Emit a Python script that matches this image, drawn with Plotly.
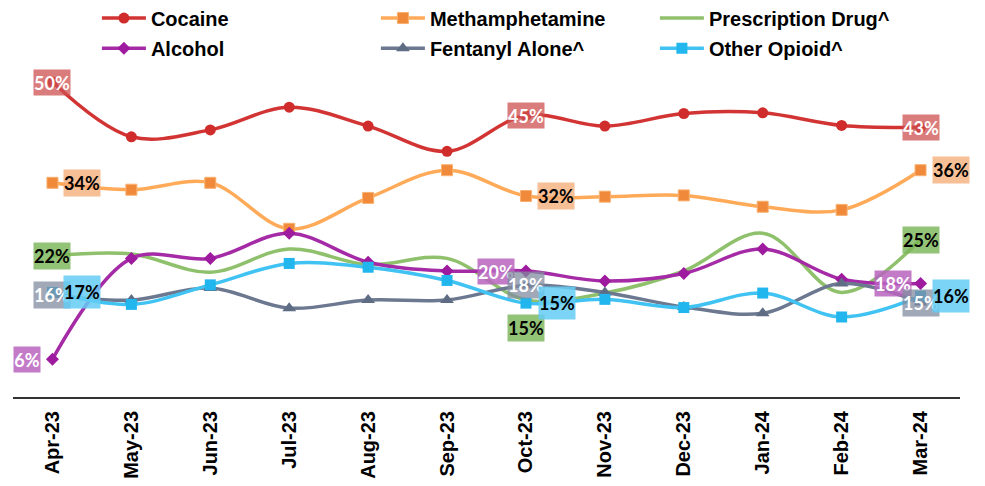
import plotly.graph_objects as go

months = ["Apr-23", "May-23", "Jun-23", "Jul-23", "Aug-23", "Sep-23",
          "Oct-23", "Nov-23", "Dec-23", "Jan-24", "Feb-24", "Mar-24"]

cocaine = [50, 41.3, 42.4, 46, 43, 39, 44.7, 43, 45, 45.1, 43.1, 42.8]
meth = [34, 32.9, 34, 26.7, 31.6, 36, 31.9, 31.8, 32, 30.2, 29.7, 36]
prescription = [22.4, 22.7, 19.8, 23.5, 21, 22, 15.4, 16.5, 20, 26, 16.6, 25]
alcohol = [6, 22, 22, 26, 21.4, 20, 20, 18.4, 19.6, 23.5, 18.7, 18]
fentanyl = [16.2, 15.4, 17.3, 14.1, 15.4, 15.4, 17.7, 16.6, 14.3, 13.3, 18, 15]
other_opioid = [16.6, 14.7, 17.8, 21.2, 20.6, 18.5, 14.9, 15.5, 14.2, 16.5, 12.7, 16]

label_idx = [0, 6, 11]

series = [
    ("Cocaine", cocaine, "#D23434", dict(symbol="circle", size=11, color="#D02C2C"),
     "rgba(205,80,80,0.75)", "white", [(0, 0), (0, 0), (0, 0)], 25, "legend"),
    ("Methamphetamine", meth, "#FFAA58", dict(symbol="square", size=11, color="#F08A3A",
                                               line=dict(color="#F8B070", width=1)),
     "rgba(244,170,115,0.75)", "black", [(30, 0), (30, 0), (30, 0)], 26, "legend"),
    ("Prescription Drug^", prescription, "#8FC06C", None,
     "rgba(120,180,85,0.8)", "black", [(0, 0), (0, -28), (0, 0)], 26, "legend"),
    ("Alcohol", alcohol, "#A52AA5", dict(symbol="diamond", size=10, color="#9E1A9E"),
     "rgba(185,100,190,0.85)", "white", [(-25, 0), (-30, 0), (-28, 0)], 25, "legend2"),
    ("Fentanyl Alone^", fentanyl, "#6B7890", dict(symbol="triangle-up", size=12, color="#5E6C84"),
     "rgba(130,140,160,0.75)", "white", [(0, 0), (0, 0), (0, 0)], 26, "legend2"),
    ("Other Opioid^", other_opioid, "#40C2F2", dict(symbol="square", size=11, color="#22B6EE"),
     "rgba(100,205,245,0.85)", "black", [(30, 0), (31, 0), (30, 0)], 32, "legend2"),
]

fig = go.Figure()
annotations = []
for name, vals, lc, mk, bg, tc, shifts, h, lg in series:
    if mk is None:
        fig.add_trace(go.Scatter(x=months, y=vals, name=name, mode="lines", legend=lg,
                                 line=dict(color=lc, width=3.5, shape="spline", smoothing=1)))
    else:
        fig.add_trace(go.Scatter(x=months, y=vals, name=name, mode="lines+markers", legend=lg,
                                 line=dict(color=lc, width=3.5, shape="spline", smoothing=1),
                                 marker=mk))

for name, vals, lc, mk, bg, tc, shifts, h, lg in series:
    for k, i in enumerate(label_idx):
        txt = f"{round(vals[i])}%"
        annotations.append(dict(
            x=months[i], y=vals[i], xref="x", yref="y", text=f"<b>{txt}</b>",
            showarrow=False, xshift=shifts[k][0], yshift=shifts[k][1],
            bgcolor=bg, font=dict(family="Lato", size=18, color=tc),
            width=36 if len(txt) > 2 else 26, height=h, borderpad=0,
        ))

legend_common = dict(orientation="h", x=0.091, xanchor="left", yanchor="middle",
                     xref="container", yref="container",
                     entrywidth=220, entrywidthmode="pixels", itemwidth=44,
                     font=dict(family="Liberation Sans", size=20, color="black", weight="bold"),
                     bgcolor="rgba(0,0,0,0)", traceorder="normal")

fig.update_layout(
    width=977, height=478,
    margin=dict(l=4.5, r=25, t=11, b=89.3, autoexpand=False),
    paper_bgcolor="white", plot_bgcolor="white",
    showlegend=True,
    legend=dict(legend_common, y=0.979),
    legend2=dict(legend_common, y=0.916),
    annotations=annotations,
    xaxis=dict(type="category", range=[-0.5, 11.5], showgrid=False, automargin=False,
               showline=True, linecolor="#333333", linewidth=2,
               tickangle=-90, ticks="", ticklabelstandoff=4,
               tickfont=dict(family="Liberation Sans", size=20, color="black", weight="bold")),
    yaxis=dict(range=[0, 60], visible=False, showgrid=False, zeroline=False, automargin=False),
)

fig.write_html("out.html")
